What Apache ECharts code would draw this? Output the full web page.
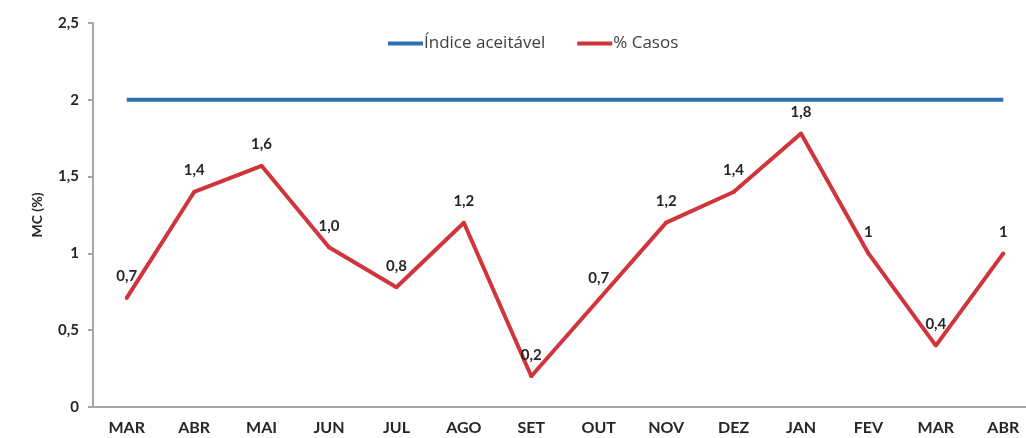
<!DOCTYPE html>
<html>
<head>
<meta charset="utf-8">
<script src="https://cdn.jsdelivr.net/npm/echarts@6/dist/echarts.min.js"></script>
<style>
  html, body { margin: 0; padding: 0; background: #fff; }
  #main { width: 1026px; height: 438px; }
</style>
</head>
<body>
<div id="main"></div>
<script>
// dados
const months = ['MAR', 'ABR', 'MAI', 'JUN', 'JUL', 'AGO', 'SET', 'OUT', 'NOV', 'DEZ', 'JAN', 'FEV', 'MAR', 'ABR'];
const casos = [0.71, 1.4, 1.57, 1.04, 0.78, 1.2, 0.2, 0.7, 1.2, 1.4, 1.78, 1.0, 0.4, 1.0];
const casosLabels = ['0,7', '1,4', '1,6', '1,0', '0,8', '1,2', '0,2', '0,7', '1,2', '1,4', '1,8', '1', '0,4', '1'];
const indiceAceitavel = [2, 2, 2, 2, 2, 2, 2, 2, 2, 2, 2, 2, 2, 2];
const yTicks = { min: 0, max: 2.5, interval: 0.5 };

const font = 'Lato, "Open Sans", sans-serif';

const chart = echarts.init(document.getElementById('main'));
chart.setOption({
  animation: false,
  backgroundColor: '#fff',
  textStyle: { fontFamily: font },
  grid: { left: 93, width: 944, top: 23, bottom: 31, containLabel: false, outerBoundsMode: 'none' },
  legend: {
    top: 30,
    left: 383,
    itemWidth: 35,
    itemHeight: 4,
    itemGap: 32,
    icon: 'rect',
    textStyle: { fontSize: 17, color: '#404040', fontFamily: '"Open Sans", sans-serif', padding: [0, 0, 0, -4] },
    data: ['Índice aceitável', '% Casos']
  },
  xAxis: {
    type: 'category',
    data: months,
    boundaryGap: true,
    axisLine: { lineStyle: { color: '#a6a6a6', width: 2 } },
    axisTick: { show: false },
    axisLabel: { margin: 13, fontSize: 16, fontWeight: 'bold', color: '#262626', fontFamily: font }
  },
  yAxis: {
    type: 'value',
    min: yTicks.min,
    max: yTicks.max,
    interval: yTicks.interval,
    name: 'MC (%)',
    nameLocation: 'middle',
    nameRotate: 90,
    nameGap: 49,
    nameTextStyle: { fontSize: 14, fontWeight: 'bold', color: '#262626', fontFamily: font },
    axisLine: { show: true, lineStyle: { color: '#a6a6a6', width: 2 } },
    axisTick: { show: true, length: 5, lineStyle: { color: '#a6a6a6', width: 2 } },
    splitLine: { show: false },
    axisLabel: {
      margin: 14,
      fontSize: 15,
      fontWeight: 'bold',
      color: '#262626',
      fontFamily: font,
      formatter: v => String(v).replace('.', ',')
    }
  },
  series: [
    {
      name: 'Índice aceitável',
      type: 'line',
      data: indiceAceitavel,
      symbol: 'none',
      color: '#2f70b0',
      lineStyle: { width: 4, color: '#2f70b0' }
    },
    {
      name: '% Casos',
      type: 'line',
      data: casos,
      symbol: 'circle',
      symbolSize: 4,
      showSymbol: true,
      color: '#d0353c',
      itemStyle: { color: '#d0353c' },
      lineStyle: { width: 4, color: '#d0353c' },
      label: {
        show: true,
        position: 'top',
        distance: 12,
        fontSize: 15,
        fontWeight: 'bold',
        color: '#262626',
        fontFamily: font,
        formatter: p => casosLabels[p.dataIndex]
      }
    }
  ]
});
</script>
</body>
</html>
